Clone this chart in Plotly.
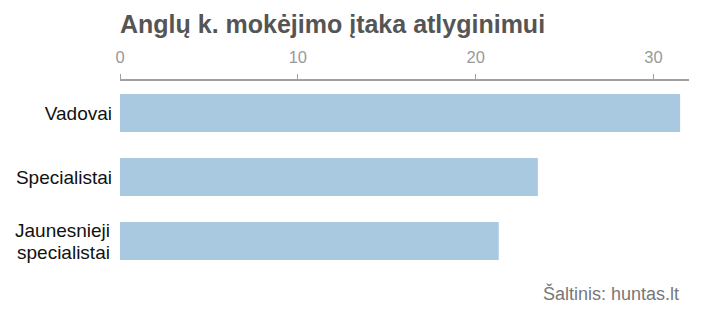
import plotly.graph_objects as go

categories = ["Vadovai", "Specialistai", "Jaunesnieji specialistai"]
values = [31.5, 23.5, 21.3]
x_ticks = [0, 10, 20, 30]

fig = go.Figure(go.Bar(
    x=values, y=categories, orientation="h",
    marker=dict(color="#a9c9e1", line=dict(width=0)),
    hoverinfo="skip",
))

# single-line labels via axis; two-line label drawn with tighter line spacing
tick_text = [c if len(c.split()) == 1 else "" for c in categories]
label_font = dict(size=19, color="#111111")
line_gap = 22
annotations = []
for c in categories:
    parts = c.split()
    if len(parts) > 1:
        n = len(parts)
        for i, p in enumerate(parts):
            annotations.append(dict(
                text=p, xref="paper", yref="y", x=0, y=c,
                xanchor="right", yanchor="middle", xshift=-9,
                yshift=(n - 1) * line_gap / 2 - i * line_gap, borderpad=0,
                showarrow=False, font=label_font,
            ))

annotations.append(dict(
    text="Šaltinis: huntas.lt", xref="paper", yref="paper",
    x=(679 - 120) / (702 - 133), y=-0.04, xanchor="right", yanchor="top",
    xshift=2,
    showarrow=False, font=dict(size=18, color="#777777"),
))

fig.update_layout(
    width=702, height=310,
    margin=dict(l=120, r=13, t=81, b=37),
    paper_bgcolor="white", plot_bgcolor="white",
    bargap=0.406,
    showlegend=False,
    font=dict(family="Liberation Sans, Arial, sans-serif"),
    title=dict(
        text="<b>Anglų k. mokėjimo įtaka atlyginimui</b>",
        x=0, xanchor="left", xref="paper",
        y=1 - 24 / 310, yanchor="middle", yref="container",
        font=dict(size=25, color="#555555"),
    ),
    annotations=annotations,
)

fig.update_xaxes(
    side="top", range=[0, 32], tickvals=x_ticks,
    showgrid=False, zeroline=False,
    showline=True, linecolor="#a0a0a0", linewidth=2,
    ticks="outside", ticklen=5, tickcolor="#a0a0a0", tickwidth=1,
    tickfont=dict(size=16.5, color="#999999"),
    ticklabelstandoff=4,
)
fig.update_yaxes(
    autorange="reversed", showgrid=False, zeroline=False, showline=False,
    ticks="", tickfont=label_font,
    tickvals=categories, ticktext=tick_text,
    ticklabelstandoff=7,
)

fig.write_html("out.html")
